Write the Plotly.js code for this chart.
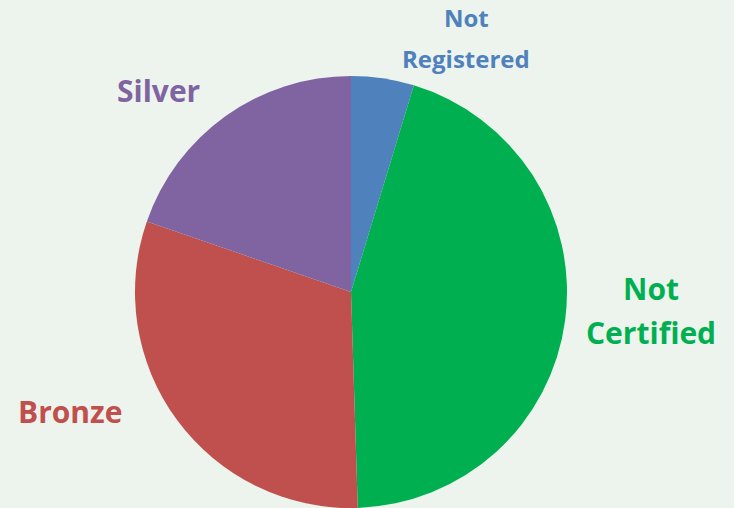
<!DOCTYPE html>
<html>
<head>
<meta charset="utf-8">
<script src="https://cdn.plot.ly/plotly-3.0.1.min.js"></script>
<style>html,body{margin:0;padding:0;background:#EDF4EE;}</style>
</head>
<body>
<div id="chart" style="width:734px;height:508px;"></div>
<script>
const categories = ["Not Registered", "Not Certified", "Bronze", "Silver"];
const shares = [4.7, 44.8, 30.8, 19.7];
const colors = ["#4F81BD", "#00B050", "#C0504D", "#8064A2"];

const W = 734, H = 508;
function px(x){ return x / W; }
function py(y){ return 1 - y / H; }

const labelSpecs = [
  {lines: ["Not", "Registered"], x: 466, ys: [17, 58], size: 24, color: colors[0]},
  {lines: ["Not", "Certified"], x: 651, ys: [288, 332], size: 30, color: colors[1]},
  {lines: ["Bronze"], x: 70, ys: [411], size: 30, color: colors[2]},
  {lines: ["Silver"], x: 158, ys: [90], size: 30, color: colors[3]}
];
const annotations = [];
labelSpecs.forEach(s => s.lines.forEach((t, i) => annotations.push({
  text: t, xref: "paper", yref: "paper", x: px(s.x), y: py(s.ys[i]),
  xanchor: "center", yanchor: "middle", showarrow: false,
  font: {family: "'Open Sans', sans-serif", size: s.size, color: s.color, weight: "bold"}
})));

Plotly.newPlot("chart", [{
  type: "pie",
  labels: categories,
  values: shares,
  sort: false,
  direction: "clockwise",
  rotation: 0,
  marker: {colors: colors, line: {width: 0}},
  textinfo: "none",
  hoverinfo: "label+percent",
  domain: {x: [135 / W, 567 / W], y: [0, 432 / H]},
  showlegend: false
}], {
  width: W, height: H,
  margin: {l: 0, r: 0, t: 0, b: 0},
  paper_bgcolor: "#EDF4EE",
  plot_bgcolor: "#EDF4EE",
  showlegend: false,
  annotations: annotations
}, {displayModeBar: false, staticPlot: true});
</script>
</body>
</html>
